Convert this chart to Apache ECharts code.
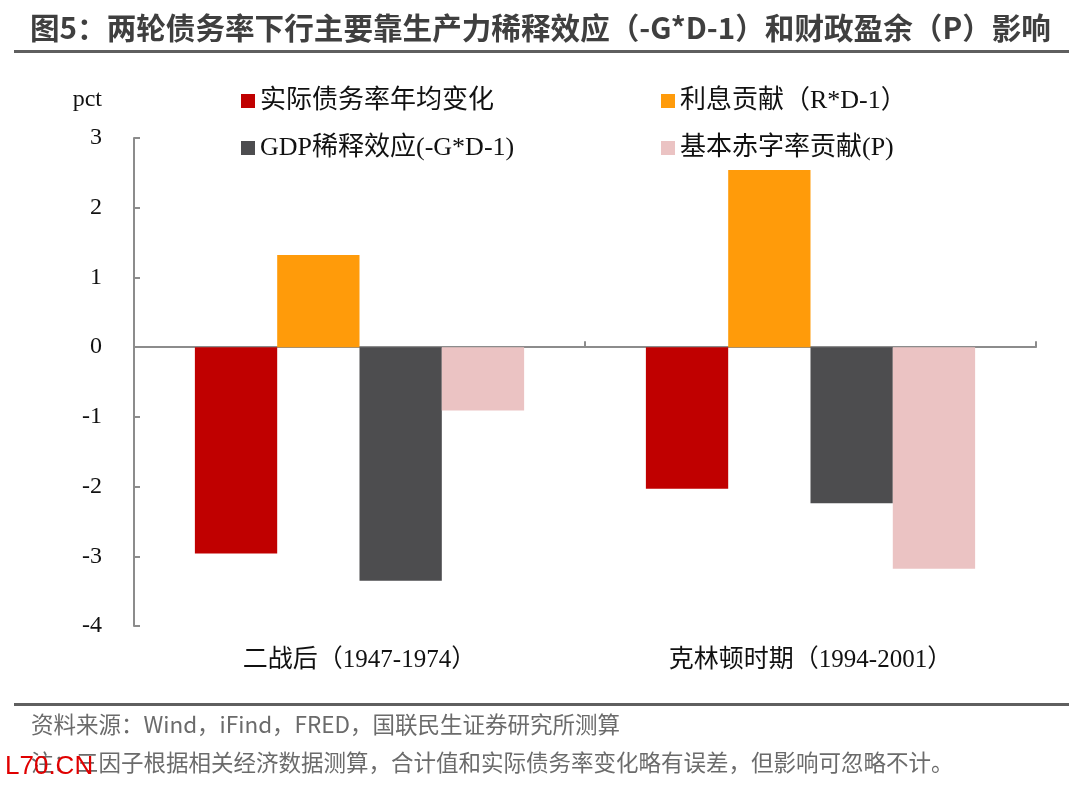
<!DOCTYPE html>
<html>
<head>
    <meta charset="utf-8">
    <script src="https://cdn.jsdelivr.net/npm/echarts@6/dist/echarts.min.js"></script>
    <style>
        body { margin: 0; background: #fff; }
        #main { position: absolute; top: 0; left: 0; width: 1080px; height: 790px; }
    </style>
</head>
<body>
<div id="main"></div>
<script type="text/javascript">
    // 数据
    var categories = ['二战后（1947-1974）', '克林顿时期（1994-2001）'];
    var seriesNames = ['实际债务率年均变化', '利息贡献（R*D-1）', 'GDP稀释效应(-G*D-1)', '基本赤字率贡献(P)'];
    var actualChange = [-2.96, -2.03];
    var interestPart = [1.32, 2.54];
    var gdpPart = [-3.35, -2.24];
    var deficitPart = [-0.91, -3.18];
    var yTicks = { min: -4, max: 3, step: 1 };

    var serif = "'Liberation Serif', 'Noto Sans CJK SC', serif";
    var sans = "'Noto Sans CJK SC', sans-serif";
    var colors = ['#C00000', '#FF9B0A', '#4D4D4F', '#EBC3C3'];
    var values = [actualChange, interestPart, gdpPart, deficitPart];

    var myChart = echarts.init(document.getElementById('main'));

    var series = seriesNames.map(function (name, i) {
        return {
            name: name,
            type: 'bar',
            data: values[i],
            barGap: '0%',
            barCategoryGap: '27%',
            itemStyle: { color: colors[i] }
        };
    });

    var legendText = { fontFamily: serif, fontSize: 26, color: '#111' };

    myChart.setOption({
        animation: false,
        color: colors,
        grid: { left: 134, right: 44, top: 138, bottom: 164 },
        legend: [{
            data: [seriesNames[0], seriesNames[2]],
            orient: 'vertical',
            left: 241, top: 88, padding: 0,
            itemWidth: 14, itemHeight: 14, itemGap: 21, itemTextGap: 7,
            icon: 'rect',
            textStyle: legendText
        }, {
            data: [seriesNames[1], seriesNames[3]],
            orient: 'vertical',
            left: 661, top: 88, padding: 0,
            itemWidth: 14, itemHeight: 14, itemGap: 21, itemTextGap: 7,
            icon: 'rect',
            textStyle: legendText
        }],
        xAxis: [{
            type: 'category',
            data: categories,
            axisLine: { onZero: true, lineStyle: { color: '#8C8C8C', width: 2 } },
            axisTick: { show: true, inside: true, length: 6, lineStyle: { color: '#8C8C8C', width: 2 } },
            axisLabel: { show: false }
        }, {
            type: 'category',
            data: categories,
            position: 'bottom',
            axisLine: { show: false, onZero: false },
            axisTick: { show: false },
            axisLabel: { margin: 22, fontFamily: serif, fontSize: 25, color: '#111' }
        }],
        yAxis: {
            type: 'value',
            min: yTicks.min, max: yTicks.max, interval: yTicks.step,
            name: 'pct',
            nameLocation: 'end',
            nameGap: 26,
            nameTextStyle: { fontFamily: serif, fontSize: 24, color: '#111', align: 'right', padding: [0, 32, 0, 0] },
            axisLine: { show: true, lineStyle: { color: '#8C8C8C', width: 2 } },
            axisTick: { show: true, inside: true, length: 6, lineStyle: { color: '#8C8C8C', width: 2 } },
            axisLabel: { margin: 32, fontFamily: serif, fontSize: 24, color: '#111' },
            splitLine: { show: false }
        },
        graphic: [
            {
                type: 'text', left: 30, top: 13,
                style: { text: '图5：两轮债务率下行主要靠生产力稀释效应（-G*D-1）和财政盈余（P）影响',
                    font: 'bold 29.6px ' + sans, fill: '#3F3F3F' }
            },
            { type: 'rect', shape: { x: 14, y: 50, width: 1055, height: 3 }, style: { fill: '#5F5F5F' } },
            { type: 'rect', shape: { x: 14, y: 703, width: 1055, height: 3 }, style: { fill: '#5F5F5F' } },
            {
                type: 'text', left: 31, top: 713,
                style: { text: '资料来源：Wind，iFind，FRED，国联民生证券研究所测算', font: '22.5px ' + sans, fill: '#6B6B6B' }
            },
            {
                type: 'text', left: 31, top: 751,
                style: { text: '注：三因子根据相关经济数据测算，合计值和实际债务率变化略有误差，但影响可忽略不计。', font: '22.5px ' + sans, fill: '#6B6B6B' }
            },
            {
                type: 'text', left: 5, top: 754,
                style: { text: 'L70.CN', font: '26px ' + "'Liberation Sans Narrow', 'Liberation Sans', sans-serif", fill: '#E00000' }
            }
        ],
        series: series
    });
</script>
</body>
</html>
